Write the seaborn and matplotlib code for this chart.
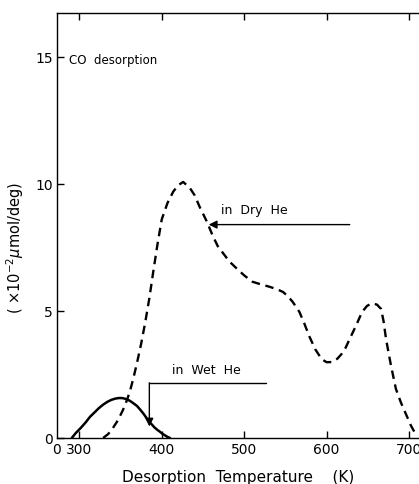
import matplotlib
matplotlib.use("Agg")
import matplotlib.pyplot as plt
import seaborn as sns
import pandas as pd

# CO desorption rate (x10^-2 umol/deg) versus desorption temperature (K)
dry_temp = [329, 335, 340, 347, 353, 358, 362, 366, 370, 375, 380, 385, 390, 395,
            400, 407, 414, 420, 426, 434, 440, 446, 455, 462, 468, 475, 482, 490,
            500, 510, 520, 531, 540, 547, 553, 559, 567, 573, 579, 586, 594, 600,
            607, 613, 618, 623, 628, 636, 643, 649, 655, 661, 666, 669, 672, 678,
            684, 690, 696, 702, 709]
dry_rate = [0.0, 0.15, 0.35, 0.7, 1.1, 1.5, 1.9, 2.4, 2.95, 3.7, 4.55, 5.5, 6.6, 7.65,
            8.6, 9.25, 9.7, 9.95, 10.08, 9.85, 9.55, 9.1, 8.5, 7.95, 7.55, 7.25, 6.95, 6.7,
            6.4, 6.15, 6.05, 5.95, 5.85, 5.75, 5.58, 5.35, 4.96, 4.5, 4.0, 3.5, 3.1, 2.98,
            2.99, 3.12, 3.3, 3.55, 3.9, 4.45, 4.96, 5.2, 5.3, 5.25, 5.08, 4.6, 3.9, 2.85,
            1.93, 1.4, 0.95, 0.5, 0.08]

wet_temp = [291, 296, 302, 308, 313, 319, 324, 329, 334, 339, 344, 348, 352, 356,
            361, 365, 370, 374, 378, 381, 384, 388, 391, 395, 398, 401, 404, 407, 410]
wet_rate = [0.0, 0.2, 0.4, 0.62, 0.83, 1.02, 1.18, 1.31, 1.42, 1.5, 1.55, 1.57, 1.57, 1.54,
            1.47, 1.38, 1.26, 1.11, 0.95, 0.81, 0.67, 0.53, 0.42, 0.31, 0.24, 0.16, 0.1, 0.04, 0.0]

x_ticks = [300, 400, 500, 600, 700]
y_ticks = [0, 5, 10, 15]

sns.set_theme(style="white")
plt.rcParams["font.family"] = ["DejaVu Sans"]

fig = plt.figure(figsize=(4.19, 4.85), dpi=100)
ax = fig.add_axes([0.136, 0.095, 0.864, 0.876])

dry = pd.DataFrame({"T": dry_temp, "rate": dry_rate})
wet = pd.DataFrame({"T": wet_temp, "rate": wet_rate})

sns.lineplot(data=dry, x="T", y="rate", ax=ax, color="black", linewidth=1.7,
             linestyle=(0, (3.6, 2.4)), sort=False)
sns.lineplot(data=wet, x="T", y="rate", ax=ax, color="black", linewidth=1.8, sort=False)

x0 = 273
ax.set_xlim(x0, 712)
ax.set_ylim(0, 16.73)

ax.set_xticks([x0] + x_ticks)
ax.set_xticklabels(["0"] + [str(t) for t in x_ticks], fontsize=10)
ax.set_yticks(y_ticks)
ax.set_yticklabels([str(t) for t in y_ticks], fontsize=10)
ax.tick_params(axis="both", direction="in", length=5, width=1, color="black",
               pad=3, labelcolor="black")
ax.tick_params(axis="x", top=True, labeltop=False, bottom=True)
ax.tick_params(axis="y", left=True)
ax.get_xticklines()[0].set_visible(False)
ax.get_xticklines()[1].set_visible(False)

for side in ["left", "bottom", "top"]:
    ax.spines[side].set_color("black")
    ax.spines[side].set_linewidth(1.0)
ax.spines["right"].set_visible(False)

ax.set_xlabel("Desorption  Temperature    (K)", fontsize=11, color="black", labelpad=9)
ax.set_ylabel(r"( $\times$10$^{-2}$$\mu$mol/deg)", fontsize=10.5, color="black")
ax.yaxis.set_label_coords(-0.085, 0.45)

ax.text(288, 14.9, "CO  desorption", fontsize=8.5, color="black", va="center")

# Label for the dry-He curve: horizontal arrow pointing left onto the curve
ax.annotate("", xy=(457, 8.4), xytext=(628, 8.4),
            arrowprops=dict(arrowstyle="-|>", color="black", lw=1.0,
                            mutation_scale=12, shrinkA=0, shrinkB=0))
ax.text(472, 8.75, "in  Dry  He", fontsize=9, color="black", va="bottom")

# Label for the wet-He curve: elbow arrow dropping down onto the curve
ax.plot([385, 527], [2.17, 2.17], color="black", lw=1.0)
ax.annotate("", xy=(385, 0.45), xytext=(385, 2.17),
            arrowprops=dict(arrowstyle="-|>", color="black", lw=1.0,
                            mutation_scale=12, shrinkA=0, shrinkB=0))
ax.text(413, 2.45, "in  Wet  He", fontsize=9, color="black", va="bottom")

fig.savefig("out.png", dpi=100, facecolor="white")
